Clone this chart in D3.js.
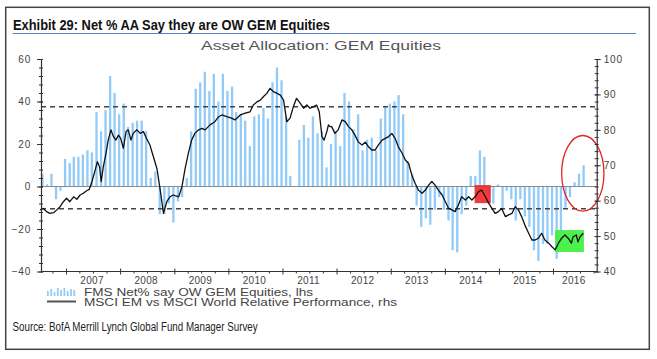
<!DOCTYPE html>
<html><head><meta charset="utf-8">
<script src="https://cdn.jsdelivr.net/npm/d3@7"></script>
<style>body{margin:0;background:#fff}svg{display:block}</style>
</head><body>
<svg id="c" width="657" height="359"></svg>
<script>
// ---- data ----
const titleText = "Exhibit 29: Net % AA Say they are OW GEM Equities";
const subtitleText = "Asset Allocation: GEM Equities";
const sourceText = "Source: BofA Merrill Lynch Global Fund Manager Survey";
const legendLabels = ["FMS Net% say OW GEM Equities, lhs", "MSCI EM vs MSCI World Relative Performance, rhs"];
const firstBarMonth = [2006, 7]; // Aug 2006
const fmsNet = [6,1,6,-6,-2,13,11,14,14,15,
  17,16,35,26,36,52,44,34,39,28,
  30,31,31,26,4,7,-13,-13,-8,-17,
  -7,-5,4,26,46,49,54,45,53,40,
  53,45,47,35,34,31,19,33,34,37,
  32,49,56,50,33,5,0,22,29,23,
  33,25,26,9,20,26,19,44,40,27,
  34,17,22,23,17,32,38,39,40,43,
  34,12,6,-9,-19,-15,-18,-11,-5,-11,
  -16,-30,-31,-13,-9,5,5,17,14,-4,
  -8,1,-11,-2,-6,-16,-6,-14,-19,-30,
  -35,-27,-27,-23,-34,-22,-10,-5,2,6,
  10];
const relPerf = [[2006.52,57.4],[2006.58,57.8],[2006.64,56.9],[2006.70,56.4],[2006.77,56.6],[2006.83,57.4],[2006.89,58.3],[2006.95,59.7],
 [2007.01,60.7],[2007.07,59.7],[2007.14,61.1],[2007.20,60.4],[2007.26,61.6],[2007.32,62.1],[2007.38,62.8],[2007.43,63.2],[2007.48,65.4],[2007.54,68.7],[2007.58,71.0],[2007.62,69.6],[2007.65,65.4],[2007.69,69.6],[2007.74,73.4],[2007.78,77.1],[2007.83,80.0],[2007.87,78.3],[2007.92,77.1],[2007.97,78.5],
 [2008.01,77.6],[2008.06,74.8],[2008.11,79.5],[2008.15,80.0],[2008.20,77.1],[2008.24,79.0],[2008.31,80.0],[2008.37,79.0],[2008.43,79.5],[2008.49,77.5],[2008.55,75.7],[2008.61,72.6],[2008.68,69.0],[2008.74,63.0],[2008.80,56.4],[2008.86,59.7],[2008.92,61.1],[2008.98,61.6],
 [2009.08,61.1],[2009.14,63.9],[2009.20,69.1],[2009.26,73.4],[2009.32,77.1],[2009.38,79.0],[2009.45,80.0],[2009.51,80.4],[2009.57,80.0],[2009.66,81.4],[2009.75,82.3],[2009.82,83.7],[2009.88,84.2],[2009.97,83.7],
 [2010.06,83.3],[2010.12,82.8],[2010.22,84.2],[2010.31,84.7],[2010.40,85.1],[2010.46,87.0],[2010.53,87.9],[2010.59,88.4],[2010.65,89.4],[2010.71,90.3],[2010.77,91.7],[2010.83,90.8],[2010.90,90.3],[2010.96,89.8],
 [2011.02,88.4],[2011.08,82.3],[2011.14,83.3],[2011.20,86.5],[2011.26,88.9],[2011.33,87.5],[2011.39,86.1],[2011.45,87.0],[2011.51,86.1],[2011.57,86.5],[2011.63,87.0],[2011.68,85.1],[2011.73,78.1],[2011.77,77.1],[2011.82,79.5],[2011.85,81.4],[2011.88,80.9],[2011.91,80.9],[2011.97,79.0],
 [2012.03,80.0],[2012.10,82.8],[2012.16,82.3],[2012.22,80.9],[2012.28,80.0],[2012.34,78.5],[2012.40,76.6],[2012.47,75.7],[2012.53,76.5],[2012.59,75.2],[2012.65,74.3],[2012.71,74.3],[2012.77,75.7],[2012.84,77.1],[2012.90,77.6],[2012.96,78.1],
 [2013.02,79.0],[2013.08,77.6],[2013.14,75.2],[2013.21,73.4],[2013.27,71.5],[2013.33,70.5],[2013.39,67.2],[2013.45,64.9],[2013.51,63.0],[2013.58,62.1],[2013.64,63.0],[2013.70,64.4],[2013.76,65.4],[2013.82,64.4],[2013.88,63.0],[2013.95,61.6],
 [2014.01,59.7],[2014.07,57.8],[2014.13,57.4],[2014.19,56.9],[2014.25,58.8],[2014.31,61.1],[2014.38,60.2],[2014.44,61.1],[2014.50,60.2],[2014.56,61.1],[2014.62,62.5],[2014.68,63.0],[2014.75,61.1],[2014.81,59.3],[2014.87,57.8],[2014.93,56.4],[2014.99,56.9],
 [2015.05,57.8],[2015.12,55.5],[2015.18,56.0],[2015.24,56.4],[2015.30,58.3],[2015.36,57.4],[2015.42,55.5],[2015.48,53.1],[2015.55,50.8],[2015.61,48.9],[2015.67,48.9],[2015.73,49.4],[2015.79,50.8],[2015.85,48.9],[2015.92,48.0],[2015.98,47.0],
 [2016.04,46.1],[2016.10,48.0],[2016.16,49.4],[2016.22,50.3],[2016.28,49.4],[2016.34,48.0],[2016.37,49.8],[2016.43,50.3],[2016.46,48.4],[2016.50,49.8],[2016.56,50.8]];
const years = [2007,2008,2009,2010,2011,2012,2013,2014,2015,2016];
const leftTicks = [-40,-20,0,20,40,60];
const rightTicks = [40,50,60,70,80,90,100];
const dashLevels = [37.5, -10.5];           // lhs
const redBox = {t0:2014.55, t1:2014.85, v0:59.3, v1:64.4};   // rhs units
const greenBox = {t0:2016.04, t1:2016.57, v0:45.5, v1:51.7}; // rhs units
const circleNote = {t:2016.55, v:6.2, rt:0.39, rv:17.8};     // lhs units

// ---- helpers ----
function dy(t){const y=Math.floor(t);const a=new Date(y,0,1),b=new Date(y+1,0,1);return new Date(+a+(t-y)*(b-a));}

const svg = d3.select("#c");
const W=657,H=359;
const x = d3.scaleTime().domain([new Date(2006,6,16), new Date(2016,9,22)]).range([41,596.7]);
const yL = d3.scaleLinear().domain([-40,60]).range([271.5,59]);
const yR = d3.scaleLinear().domain([40,100]).range([271.5,59]);

// frame
svg.append("rect").attr("x",5.7).attr("y",7.3).attr("width",643.6).attr("height",342)
  .attr("fill","none").attr("stroke","#444").attr("stroke-width",1.5);
// title
svg.append("text").attr("x",13).attr("y",29.5).text(titleText)
  .attr("font-family","'Liberation Sans Narrow','Arial Narrow',sans-serif").attr("font-weight","bold")
  .attr("font-size",15).attr("fill","#111").attr("textLength",317).attr("lengthAdjust","spacingAndGlyphs");
svg.append("line").attr("x1",12.6).attr("x2",636).attr("y1",33.5).attr("y2",33.5)
  .attr("stroke","#5b80c0").attr("stroke-width",1.2);
svg.append("text").attr("x",321).attr("y",49.5).attr("text-anchor","middle").text(subtitleText)
  .attr("font-family","'Liberation Sans',Arial,sans-serif").attr("font-size",12).attr("fill","#555")
  .attr("textLength",240).attr("lengthAdjust","spacingAndGlyphs");

// bars
const bars = fmsNet.map((v,i)=>({d:new Date(firstBarMonth[0], firstBarMonth[1]+i, 1), v}));
svg.append("g").selectAll("rect").data(bars).join("rect")
  .attr("x",d=>x(d.d)-2.1).attr("width",2.3)
  .attr("y",d=>yL(Math.max(0,d.v))).attr("height",d=>Math.abs(yL(d.v)-yL(0)))
  .attr("fill","#92cbf8");

// zero line & dashed lines
svg.append("line").attr("x1",41).attr("x2",596.7).attr("y1",yL(0)).attr("y2",yL(0))
  .attr("stroke","#8a8a8a").attr("stroke-width",1);
svg.append("g").selectAll("line").data(dashLevels).join("line")
  .attr("x1",41).attr("x2",596.7).attr("y1",d=>yL(d)).attr("y2",d=>yL(d))
  .attr("stroke","#444").attr("stroke-width",1.5).attr("stroke-dasharray","5,4");

// highlight boxes
[[redBox,"#ee2a2a"],[greenBox,"#3ef03e"]].forEach(([b,c])=>{
  svg.append("rect").attr("x",x(dy(b.t0))).attr("width",x(dy(b.t1))-x(dy(b.t0)))
    .attr("y",yR(b.v1)).attr("height",yR(b.v0)-yR(b.v1)).attr("fill",c).attr("opacity",0.92);
});

// line
svg.append("path").datum(relPerf)
  .attr("d",d3.line().x(d=>x(dy(d[0]))).y(d=>yR(d[1])))
  .attr("fill","none").attr("stroke","#111").attr("stroke-width",1.3).attr("stroke-linejoin","round");

// ellipse annotation
svg.append("ellipse").attr("cx",x(dy(circleNote.t))).attr("cy",yL(circleNote.v))
  .attr("rx",x(dy(circleNote.t+circleNote.rt))-x(dy(circleNote.t)))
  .attr("ry",yL(0)-yL(circleNote.rv))
  .attr("fill","none").attr("stroke","#e42222").attr("stroke-width",1.3);

// axes
const axisColor="#333", labColor="#444";
function styleAxis(g){g.select(".domain").attr("stroke",axisColor).attr("stroke-width",1.2);
  g.selectAll("line").attr("stroke",axisColor);
  g.selectAll("text").attr("fill",labColor).attr("font-family","'Liberation Sans',Arial,sans-serif").attr("font-size",10).attr("letter-spacing",0.8);}
// left
const gLm = svg.append("g").attr("transform","translate(41,0)")
  .call(d3.axisLeft(yL).tickValues(d3.range(-40,61,4)).tickSize(2).tickFormat(""));
gLm.select(".domain").remove(); gLm.selectAll("line").attr("x1",2).attr("x2",-2).attr("stroke",axisColor);
const gL = svg.append("g").attr("transform","translate(41,0)")
  .call(d3.axisLeft(yL).tickValues(leftTicks).tickSizeInner(4).tickSizeOuter(0).tickPadding(6));
gL.selectAll(".tick line").attr("x1",2);
styleAxis(gL);
// right
const gRm = svg.append("g").attr("transform","translate(596.7,0)")
  .call(d3.axisRight(yR).tickValues(d3.range(40,101,2)).tickSize(2).tickFormat(""));
gRm.select(".domain").remove(); gRm.selectAll("line").attr("x1",-2).attr("x2",2).attr("stroke",axisColor);
const gR = svg.append("g").attr("transform","translate(596.7,0)")
  .call(d3.axisRight(yR).tickValues(rightTicks).tickSizeInner(4).tickSizeOuter(0).tickPadding(3));
gR.selectAll(".tick line").attr("x1",-2);
styleAxis(gR);
// bottom
const xTicks = years.map(y=>new Date(y,0,1));
const qTicks = [];
years.concat([2006]).forEach(y=>[0,3,6,9].forEach(m=>{const d=new Date(y,m,1); if(d>=x.domain()[0]&&d<=x.domain()[1]&&m!==0) qTicks.push(d);}));
const gBm = svg.append("g").attr("transform","translate(0,271.5)")
  .call(d3.axisBottom(x).tickValues(qTicks).tickSize(2).tickFormat(""));
gBm.select(".domain").remove(); gBm.selectAll("line").attr("stroke",axisColor);
const gB = svg.append("g").attr("transform","translate(0,271.5)")
  .call(d3.axisBottom(x).tickValues(xTicks).tickSizeInner(3).tickSizeOuter(0).tickFormat(""));
gB.selectAll(".tick line").attr("y1",-3);
styleAxis(gB);
gB.select(".domain").attr("d","M41,0H596.7");
// year labels centred on visible part of each year
svg.append("g").selectAll("text").data(years).join("text")
  .attr("x",y=>{const a=Math.max(+new Date(y,0,1),+x.domain()[0]), b=Math.min(+new Date(y+1,0,1),+x.domain()[1]); return x(new Date((a+b)/2))-1;})
  .attr("y",284).attr("text-anchor","middle").text(y=>String(y))
  .attr("fill",labColor).attr("font-family","'Liberation Sans',Arial,sans-serif").attr("font-size",10).attr("letter-spacing",0.3);

// legend
const lg = svg.append("g");
const legendBars = [5,7,4,8,6,8,5,7,6];
lg.selectAll("rect").data(legendBars).join("rect")
  .attr("x",(d,i)=>47+i*3.3).attr("width",1.8).attr("y",d=>296-d).attr("height",d=>d).attr("fill","#92cbf8");
lg.append("line").attr("x1",47).attr("x2",76).attr("y1",301.5).attr("y2",301.5).attr("stroke","#555").attr("stroke-width",2);
lg.selectAll("text").data(legendLabels).join("text")
  .attr("x",84).attr("y",(d,i)=>296+i*9.5).text(d=>d)
  .attr("fill",labColor).attr("font-family","'Liberation Sans',Arial,sans-serif").attr("font-size",10)
  .attr("textLength",(d,i)=>i===0?229:313).attr("lengthAdjust","spacingAndGlyphs");

// source
svg.append("text").attr("x",12.6).attr("y",330.5).text(sourceText)
  .attr("font-family","'Liberation Sans Narrow','Arial Narrow',sans-serif").attr("font-size",12.5).attr("fill","#222")
  .attr("textLength",245).attr("lengthAdjust","spacingAndGlyphs");
</script>
</body></html>
